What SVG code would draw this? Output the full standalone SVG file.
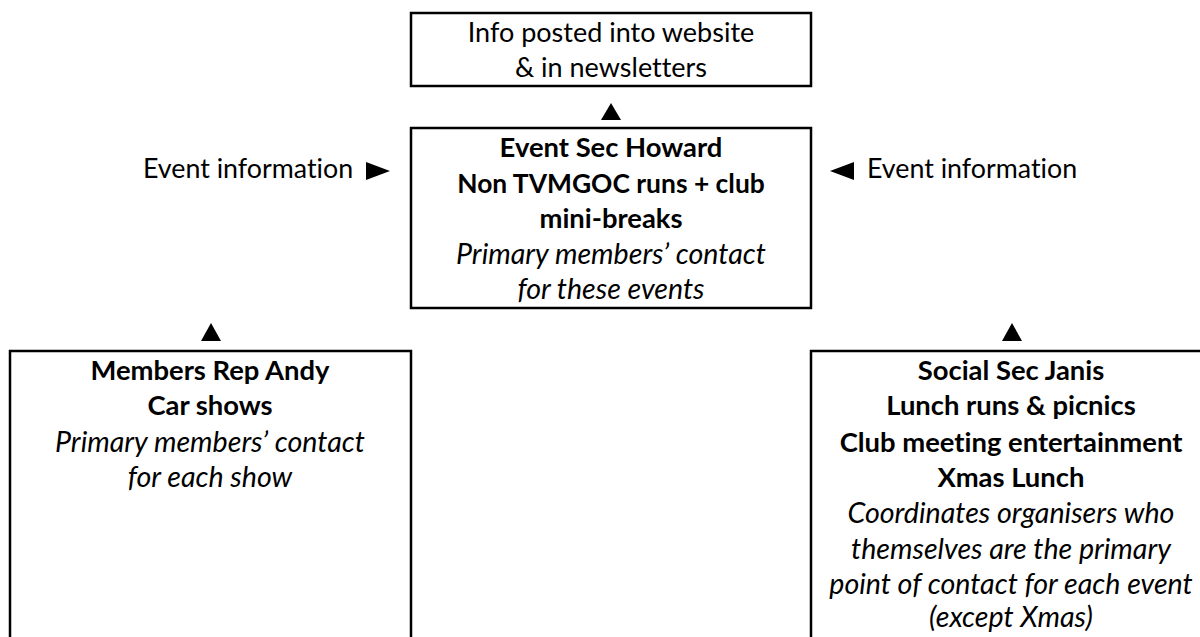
<svg xmlns="http://www.w3.org/2000/svg" width="1200" height="637" viewBox="0 0 1200 637">
<style>
.box{fill:#fff;stroke:#000;stroke-width:2.5}
text{font-family:Lato,"Noto Sans",sans-serif;font-size:27px;fill:#000;text-anchor:middle;font-variant-ligatures:none}
.b{font-weight:bold;font-size:27.4px}
.i{font-style:italic;font-size:28.6px}
.l{text-anchor:start;font-size:26.8px}
.tri{fill:#000}
</style>
<rect width="1200" height="637" fill="#fff"/>
<g id="website">
<rect class="box" x="411" y="13" width="400" height="73"/>
<text x="611" y="42">Info posted into website</text>
<text x="611" y="77">&amp; in newsletters</text>
</g>
<g id="event-sec">
<rect class="box" x="411" y="128" width="400" height="180"/>
<text class="b" x="611" y="157">Event Sec Howard</text>
<text class="b" x="611" y="193" style="font-size:26.4px">Non TVMGOC runs + club</text>
<text class="b" x="611" y="228">mini-breaks</text>
<text class="i" x="611" y="264">Primary members’ contact</text>
<text class="i" x="611" y="299">for these events</text>
</g>
<g id="members-rep">
<rect class="box" x="10" y="351" width="401" height="300"/>
<text class="b" x="210" y="380">Members Rep Andy</text>
<text class="b" x="210" y="415">Car shows</text>
<text class="i" x="210" y="452">Primary members’ contact</text>
<text class="i" x="210" y="487">for each show</text>
</g>
<g id="social-sec">
<rect class="box" x="811" y="351" width="400" height="300"/>
<text class="b" x="1011" y="380">Social Sec Janis</text>
<text class="b" x="1011" y="415">Lunch runs &amp; picnics</text>
<text class="b" x="1011" y="452">Club meeting entertainment</text>
<text class="b" x="1011" y="487">Xmas Lunch</text>
<text class="i" x="1011" y="523">Coordinates organisers who</text>
<text class="i" x="1011" y="559">themselves are the primary</text>
<text class="i" x="1011" y="594">point of contact for each event</text>
<text class="i" x="1011" y="627">(except Xmas)</text>
</g>
<g id="connectors">
<polygon class="tri" points="611,103 621,120 601,120"/>
<polygon class="tri" points="211,323 221,341 201,341"/>
<polygon class="tri" points="1012,323 1022,341 1002,341"/>
<text class="l" x="143" y="178">Event information</text>
<polygon class="tri" points="366,162 390,171 366,180"/>
<polygon class="tri" points="854,162 830,171 854,180"/>
<text class="l" x="867" y="178">Event information</text>
</g>
</svg>
